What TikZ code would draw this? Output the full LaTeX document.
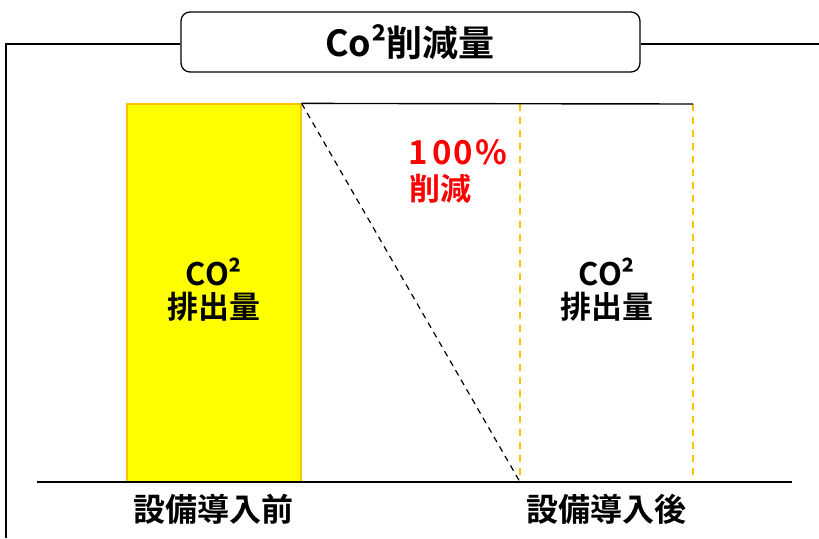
\documentclass[tikz,border=0pt]{standalone}
\usepackage{fontspec}
\setmainfont{Noto Sans CJK JP}[BoldFont={Noto Sans CJK JP Bold}]
\definecolor{ylw}{RGB}{255,255,0}
\definecolor{org}{RGB}{255,192,0}
\definecolor{redt}{RGB}{255,0,0}
\begin{document}
\begin{tikzpicture}[x=1pt,y=-1pt,
  frame/.style={draw=black,line width=1.3pt},
  txt/.style={font=\bfseries\fontsize{31}{34}\selectfont,align=center,inner sep=0pt},
  odash/.style={draw=org,line width=1.3pt,dash pattern=on 7pt off 6pt}]
\useasboundingbox (0,0) rectangle (819,538);
% outer frame
\coordinate (fl) at (6,538);
\coordinate (flt) at (6,44);
\coordinate (fr) at (819,44);
\node[draw,rounded corners=9pt,line width=1.3pt,minimum width=459pt,minimum height=60pt,inner sep=0pt] (title) at (410.5,42) {};
\node[txt,font=\bfseries\fontsize{36}{40}\selectfont] (titletxt) at (410,42) {Co²削減量};
\draw[frame] (fl) -- (flt) -- (title.west |- flt);
\draw[frame] (title.east |- fr) -- (fr);
% bars
\node[fill=ylw,draw=org,line width=1.2pt,minimum width=174pt,minimum height=378pt,inner sep=0pt] (before) at (214,293) {};
\coordinate (atl) at (520,104);
\coordinate (atr) at (693,104);
\coordinate (abl) at (520,482);
\coordinate (abr) at (693,482);
\draw[odash] (atl) -- (abl);
\draw[odash] (atr) -- (abr);
\draw[line width=1.4pt] (before.north east) -- (atr);
\draw[dashed,line width=1.2pt,dash pattern=on 6pt off 5pt] (before.north east) -- (abl);
% baseline
\coordinate (bl) at (37,482);
\coordinate (br) at (792,482);
\draw[line width=1.4pt] (bl) -- (br);
% texts
\node[txt] (t1) at (214,290) {CO²\\[-1pt]排出量};
\node[txt] (t2) at (607,290) {CO²\\[-1pt]排出量};
\node[txt,text=redt,font=\bfseries\fontsize{33}{36}\selectfont] (pct) at (458,152) {1\hspace{4pt}0\hspace{2pt}0\hspace{2pt}\%};
\node[txt,text=redt,font=\bfseries\fontsize{31}{34}\selectfont] (red) at (440,189) {削減};
\node[txt,font=\bfseries\fontsize{32}{36}\selectfont] (lb1) at (213,509) {設備導入前};
\node[txt,font=\bfseries\fontsize{32}{36}\selectfont] (lb2) at (606,509) {設備導入後};
\end{tikzpicture}
\end{document}
